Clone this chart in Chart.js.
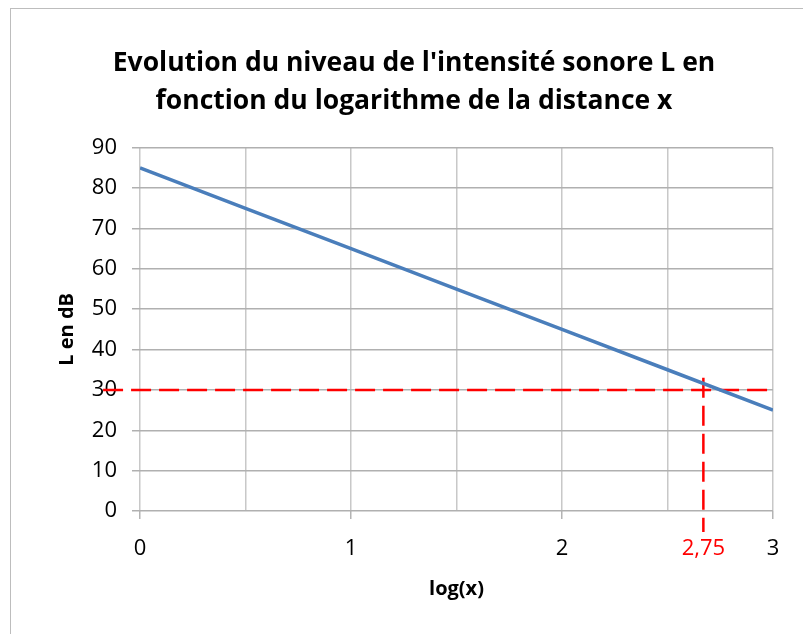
<!DOCTYPE html>
<html>
<head>
<meta charset="utf-8">
<script src="https://cdn.jsdelivr.net/npm/chart.js@4"></script>
<style>
  html, body { margin: 0; padding: 0; background: #fff; }
  #wrap { width: 803px; height: 634px; }
</style>
</head>
<body>
<div id="wrap"><canvas id="chart"></canvas></div>
<script>
// values
const logX = [0, 0.5, 1, 1.5, 2, 2.5, 3]
const levelDb = [85, 75, 65, 55, 45, 35, 25]
const thresholdLine = [{x: -0.175, y: 30}, {x: 3, y: 30}]
const markPos = 2.67          // where the hand-drawn red mark sits on the axis
const markLabel = '2,75'
const readLine = [{x: markPos, y: 33}, {x: markPos, y: -5.2}]
const yTicks = [0, 10, 20, 30, 40, 50, 60, 70, 80, 90]

const titleLines = ["Evolution du niveau de l'intensité sonore L en", "fonction du logarithme de la distance x"]

const frame = {
  id: 'frame',
  beforeDraw(chart) {
    const ctx = chart.ctx
    ctx.save()
    ctx.strokeStyle = '#bdbdbd'
    ctx.lineWidth = 1
    ctx.strokeRect(10.5, 8.5, 1000, 1000)
    ctx.restore()
  }
}

new Chart('chart', {
  type: 'line',
  data: {
    datasets: [{
      label: 'L',
      data: logX.map((x, i) => ({x: x, y: levelDb[i]})),
      borderColor: '#4a7ebb',
      borderWidth: 3.5,
      pointRadius: 0,
      tension: 0
    }, {
      label: 'seuil',
      data: thresholdLine,
      borderColor: '#ff0000',
      borderWidth: 2.5,
      borderDash: [20, 8],
      pointRadius: 0,
      clip: false
    }, {
      label: 'lecture',
      data: readLine,
      borderColor: '#ff0000',
      borderWidth: 2.5,
      borderDash: [20, 8],
      pointRadius: 0,
      clip: false
    }]
  },
  plugins: [frame],
  options: {
    responsive: true,
    maintainAspectRatio: false,
    animation: false,
    layout: {
      padding: {left: 55, right: 30, top: 8, bottom: 0}
    },
    plugins: {
      legend: {
        display: false
      },
      tooltip: {
        enabled: false
      },
      title: {
        display: true,
        text: titleLines,
        color: '#000',
        font: {family: 'Open Sans', size: 26.5, weight: 'bold', lineHeight: 1.43},
        padding: {top: 37, bottom: 27}
      }
    },
    scales: {
      x: {
        type: 'linear',
        min: 0,
        max: 3,
        afterFit: s => { s.height = 123 },
        afterBuildTicks: s => {
          s.ticks.push({value: markPos})
          s.ticks.sort((a, b) => a.value - b.value)
        },
        ticks: {
          stepSize: 0.5,
          autoSkip: false,
          maxRotation: 0,
          padding: 17,
          font: {family: 'Open Sans', size: 22},
          color: ctx => ctx.tick && ctx.tick.value === markPos ? '#ff0000' : '#000',
          callback: v => v === markPos ? markLabel : (Number.isInteger(v) ? String(v) : '')
        },
        grid: {
          color: ctx => ctx.tick && ctx.tick.value === markPos ? 'rgba(0,0,0,0)' : '#c8c8c8',
          tickColor: ctx => ctx.tick && Number.isInteger(ctx.tick.value) ? '#b4b4b4' : 'rgba(0,0,0,0)',
          tickLength: 8,
          lineWidth: 1.5
        },
        border: {display: false},
        title: {
          display: true,
          text: 'log(x)',
          color: '#000',
          font: {family: 'Open Sans', size: 20, weight: 'bold'},
          padding: {top: 0, bottom: 33}
        }
      },
      y: {
        min: 0,
        max: 90,
        afterFit: s => { s.width = 85 },
        afterBuildTicks: s => { s.ticks = yTicks.map(v => ({value: v})) },
        ticks: {
          padding: 15,
          font: {family: 'Open Sans', size: 22},
          color: '#000'
        },
        grid: {
          color: '#b0b0b0',
          tickColor: '#b0b0b0',
          tickLength: 8,
          lineWidth: 1.5
        },
        border: {display: false},
        title: {
          display: true,
          text: 'L en dB',
          color: '#000',
          font: {family: 'Open Sans', size: 20, weight: 'bold'},
          padding: {top: 0, bottom: 0}
        }
      }
    }
  }
})
</script>
</body>
</html>
